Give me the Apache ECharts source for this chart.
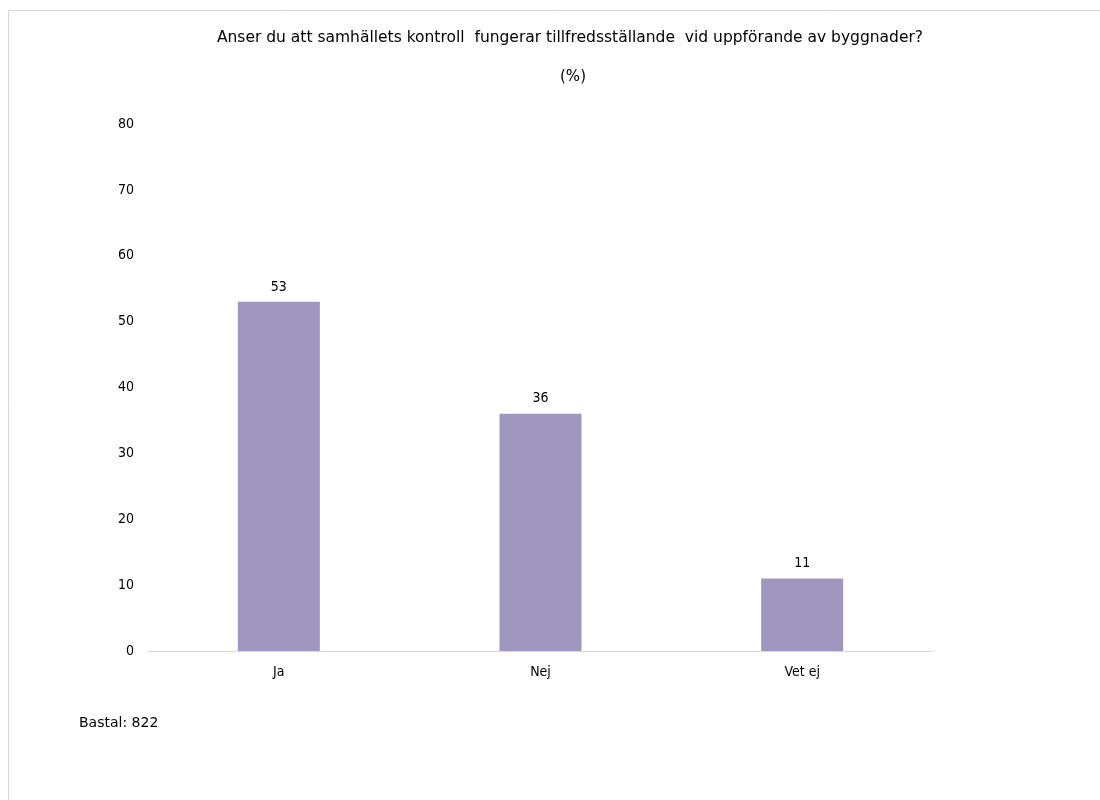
<!DOCTYPE html>
<html><head><meta charset="utf-8">
<script src="https://cdn.jsdelivr.net/npm/echarts@6/dist/echarts.min.js"></script>
<style>html,body{margin:0;padding:0;background:#fff}#c{width:1100px;height:800px}</style>
</head><body><div id="c"></div>
<script>
const categories = ['Ja', 'Nej', 'Vet ej'];
const values = [53, 36, 11];
const titleText = 'Anser du att samhällets kontroll  fungerar tillfredsställande  vid uppförande av byggnader?';
const subtitleText = '(%)';
const baseText = 'Bastal: 822';
const yTicks = {min: 0, max: 80, interval: 10};

const FONT = '"DejaVu Sans Condensed", "DejaVu Sans", sans-serif';
const TFONT = '"DejaVu Sans", sans-serif';
const chart = echarts.init(document.getElementById('c'), null, {renderer: 'canvas'});
chart.setOption({
  backgroundColor: '#fff',
  animation: false,
  title: [
    {text: titleText, left: 565, top: 25, textAlign: 'center',
     textStyle: {fontFamily: TFONT, fontSize: 15.5, fontWeight: 'normal', color: '#000'}},
    {text: subtitleText, left: 568, top: 65, textAlign: 'center',
     textStyle: {fontFamily: TFONT, fontSize: 15, fontWeight: 'normal', color: '#000'}}
  ],
  graphic: [
    {type: 'rect', shape: {x: 8.5, y: 10.5, width: 1200, height: 900},
     style: {fill: 'none', stroke: '#d9d9d9', lineWidth: 1}, silent: true},
    {type: 'text', left: 79, top: 716,
     style: {text: baseText, font: '14px ' + TFONT, fill: '#000'}}
  ],
  grid: {left: 148, right: 167, top: 124, bottom: 149, containLabel: false},
  xAxis: {
    type: 'category', data: categories,
    axisLine: {lineStyle: {color: '#d9d9d9', width: 1}},
    axisTick: {show: false},
    axisLabel: {color: '#000', fontFamily: FONT, fontSize: 14, margin: 14}
  },
  yAxis: {
    type: 'value', min: yTicks.min, max: yTicks.max, interval: yTicks.interval,
    axisLine: {show: false}, axisTick: {show: false}, splitLine: {show: false},
    axisLabel: {color: '#000', fontFamily: FONT, fontSize: 14, margin: 14}
  },
  series: [{
    type: 'bar', data: values, barWidth: 82,
    itemStyle: {color: '#a097c0'},
    label: {show: true, position: 'top', distance: 8, color: '#000', fontFamily: FONT, fontSize: 14}
  }]
});
</script></body></html>
